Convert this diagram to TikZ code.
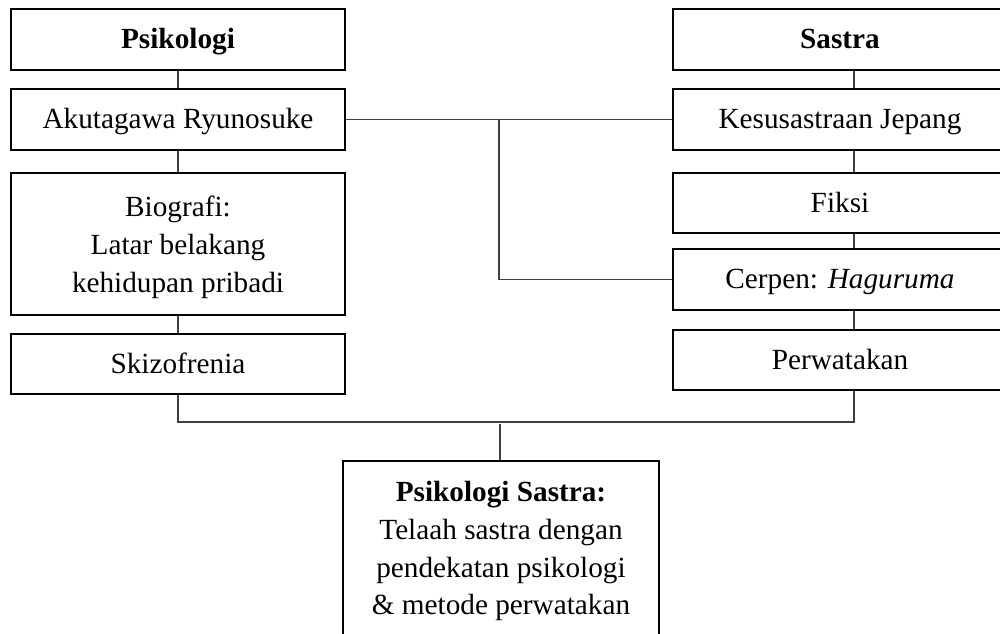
\documentclass[tikz,border=0pt]{standalone}
\usepackage{fontspec}
\setmainfont{Liberation Serif}
\usetikzlibrary{positioning}
\usetikzlibrary{calc}
\colorlet{box colour}{black}
\colorlet{link colour}{black!75}
\tikzset{
    % Boxes of the two columns, one line of text each
    topic box/.style={draw=box colour, line width=1.4pt, fill=white,
        minimum width=8.35cm, minimum height=1.525cm, inner sep=0,
        text height=16pt, text depth=2.6pt},
    % Boxes with several lines of text
    tall box/.style={topic box, minimum height=3.55cm,
        text height=, text depth=},
    % Plain connecting lines
    link/.style={color=link colour, line width=0.8pt},
    % We almost always want centre aligned node text
    every node/.style={align=center, font=\fontsize{20.8}{27}\selectfont},
}

\begin{document}
\begin{tikzpicture}[x=0.025cm, y=-0.025cm]

\clip (0,0) rectangle (1000,633);

% Left column
\node [topic box] (psikologi) at (178,39.5) {\textbf{Psikologi}};
\node [topic box] (akutagawa) at (178,119.5) {Akutagawa Ryunosuke};
\node [tall box] (biografi) at (178,244)
    {\rule{0pt}{20pt}Biografi:\\Latar belakang\\kehidupan pribadi};
\node [topic box, minimum height=1.5cm] (skizofrenia) at (178,364) {Skizofrenia};

% Right column
\node [topic box] (sastra) at (840,39.5) {\textbf{Sastra}};
\node [topic box] (kesusastraan) at (840,119.5) {Kesusastraan Jepang};
\node [topic box, minimum height=1.5cm] (fiksi) at (840,203) {Fiksi};
\node [topic box] (cerpen) at (840,279.5) {Cerpen: \textit{Haguruma}};
\node [topic box, minimum height=1.5cm] (perwatakan) at (840,360) {Perwatakan};

% Result, cut off by the lower edge
\node [tall box, minimum width=7.9cm, minimum height=4.5cm] (psisastra)
    at (501,551) {\textbf{Psikologi Sastra:}\\Telaah sastra dengan\\pendekatan psikologi\\\& metode perwatakan};

\coordinate (right line) at (854,0);
\coordinate (middle line) at (499,0);
\coordinate (join) at (500,422);

\draw [link] (psikologi) -- (akutagawa);
\draw [link] (akutagawa) -- (biografi);
\draw [link] (biografi) -- (skizofrenia);

\draw [link] (sastra.south -| right line) -- (kesusastraan.north -| right line);
\draw [link] (kesusastraan.south -| right line) -- (fiksi.north -| right line);
\draw [link] (fiksi.south -| right line) -- (cerpen.north -| right line);
\draw [link] (cerpen.south -| right line) -- (perwatakan.north -| right line);

\draw [link] (akutagawa.east) -- (kesusastraan.west);
\draw [link] (akutagawa.east -| middle line) |- (cerpen.west);

\draw [link] (skizofrenia.south) |- (join -| right line) -- (perwatakan.south -| right line);
\draw [link] ($(join)+(0,2)$) -- (psisastra.north -| join);

\end{tikzpicture}
\end{document}
